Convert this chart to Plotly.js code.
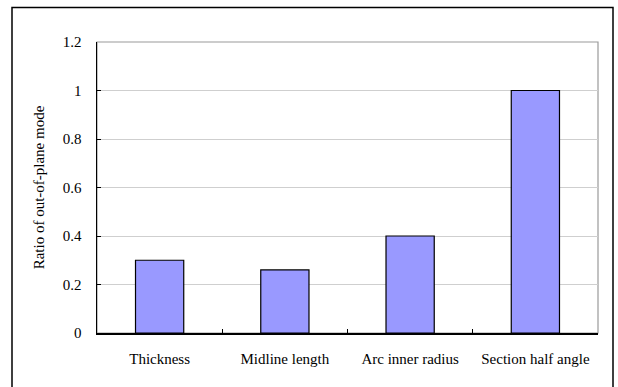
<!DOCTYPE html>
<html>
<head>
<meta charset="utf-8">
<script src="https://cdn.plot.ly/plotly-3.0.1.min.js"></script>
<style>
  html, body { margin: 0; padding: 0; background: #ffffff; }
  #chart { width: 618px; height: 387px; }
</style>
</head>
<body>
<div id="chart"></div>
<script>
// Parameters studied and their out-of-plane mode ratios
const categories = ['Thickness', 'Midline length', 'Arc inner radius', 'Section half angle'];
const ratios = [0.30, 0.26, 0.40, 1.00];
const yTickValues = [0, 0.2, 0.4, 0.6, 0.8, 1, 1.2];
const yTickLabels = ['0', '0.2', '0.4', '0.6', '0.8', '1', '1.2'];

function serifFont() {
  return { family: 'Liberation Serif', size: 15, color: '#000000' };
}

const trace = {
  type: 'bar',
  x: categories,
  y: ratios,
  marker: { color: '#9999ff', line: { color: '#000000', width: 1.2 } },
  hoverinfo: 'x+y'
};

const layout = {
  width: 618,
  height: 387,
  margin: { l: 97, r: 20, t: 42, b: 54, pad: 0 },
  paper_bgcolor: '#ffffff',
  plot_bgcolor: '#ffffff',
  showlegend: false,
  bargap: 0.615,
  xaxis: {
    type: 'category',
    tickson: 'boundaries',
    ticks: 'inside',
    ticklen: 4,
    tickwidth: 1,
    tickcolor: '#000000',
    showline: true,
    linecolor: '#000000',
    linewidth: 1.5,
    showgrid: false,
    ticklabelstandoff: 11,
    tickfont: serifFont()
  },
  yaxis: {
    range: [0, 1.2],
    tickvals: yTickValues,
    ticktext: yTickLabels,
    ticks: 'inside',
    ticklen: 4,
    tickwidth: 1,
    tickcolor: '#000000',
    showline: true,
    linecolor: '#000000',
    linewidth: 1.5,
    showgrid: true,
    gridcolor: '#cfcfcf',
    gridwidth: 1,
    zeroline: false,
    ticklabelstandoff: 11,
    tickfont: serifFont(),
    title: { text: 'Ratio of out-of-plane mode', font: serifFont(), standoff: 14 }
  },
  shapes: [
    // gray frame of the plotting area
    { type: 'rect', xref: 'paper', yref: 'paper', x0: 0, x1: 1, y0: 0, y1: 1,
      line: { color: '#9a9a9a', width: 1.2 }, layer: 'below' },
    // outer chart border
    { type: 'rect', xref: 'paper', yref: 'paper',
      x0: (12 - 97) / 501, x1: (613 - 97) / 501,
      y0: (333 - 400) / 291, y1: (333 - 7.5) / 291,
      line: { color: '#000000', width: 1.5 } }
  ]
};

Plotly.newPlot('chart', [trace], layout, { staticPlot: true, displayModeBar: false });
</script>
</body>
</html>
